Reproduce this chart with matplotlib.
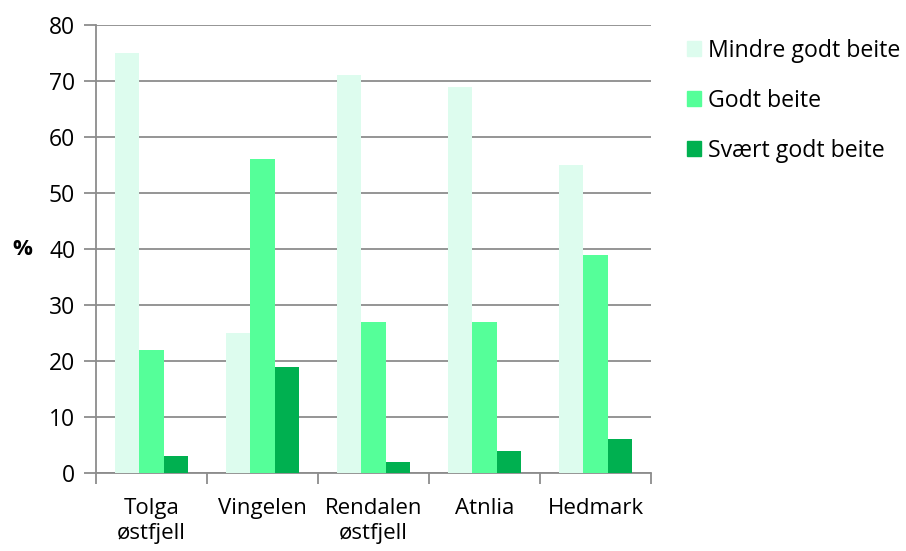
import matplotlib
matplotlib.use("Agg")
import matplotlib.pyplot as plt
import numpy as np
from matplotlib.patches import Patch

plt.rcParams['font.family'] = ['Open Sans', 'DejaVu Sans']

# beitekvalitet per område, prosent
omrader = ['Tolga\nøstfjell', 'Vingelen', 'Rendalen\nøstfjell', 'Atnlia', 'Hedmark']
serier = ['Mindre godt beite', 'Godt beite', 'Svært godt beite']
mindre_godt = [75, 25, 71, 69, 55]
godt = [22, 56, 27, 27, 39]
svaert_godt = [3, 19, 2, 4, 6]
farger = ['#DDFCEE', '#55FF99', '#00B050']

fig = plt.figure(figsize=(9.06, 5.51), dpi=100)
ax = fig.add_axes([0.106, 0.1416, 0.6125, 0.813])

x = np.arange(len(omrader))
w = 0.222
for i, (vals, c) in enumerate(zip([mindre_godt, godt, svaert_godt], farger)):
    ax.bar(x + (i - 1) * w, vals, w, color=c, zorder=3)

ax.set_xlim(-0.5, len(omrader) - 0.5)
ax.set_ylim(0, 80)
ax.set_yticks(range(0, 81, 10))
ax.yaxis.grid(True, color='#8C8C8C', linewidth=1.3, zorder=0)

grey = '#8C8C8C'
for s in ['top', 'right']:
    ax.spines[s].set_visible(False)
for s in ['left', 'bottom']:
    ax.spines[s].set_color(grey)
    ax.spines[s].set_linewidth(1.3)

ax.tick_params(axis='y', length=9, width=1.3, color=grey, labelsize=16.5, pad=6)
ax.set_xticks(x)
ax.set_xticklabels(omrader, fontsize=16, linespacing=1.28)
ax.tick_params(axis='x', which='major', length=0, pad=18)
ax.set_xticks(np.arange(-0.5, len(omrader), 1), minor=True)
ax.tick_params(axis='x', which='minor', length=8, width=1.3, color=grey)

fig.text(0.014, 0.548, '%', fontsize=16, fontweight='bold', va='center', ha='left')

handles = [Patch(color=c) for c in farger]
fig.legend(handles, serier, loc='upper left', bbox_to_anchor=(0.758, 0.93),
           frameon=False, fontsize=16.7, handlelength=0.6, handleheight=0.6,
           handletextpad=0.3, labelspacing=1.12, borderpad=0, borderaxespad=0)

fig.savefig('out.png', dpi=100)
